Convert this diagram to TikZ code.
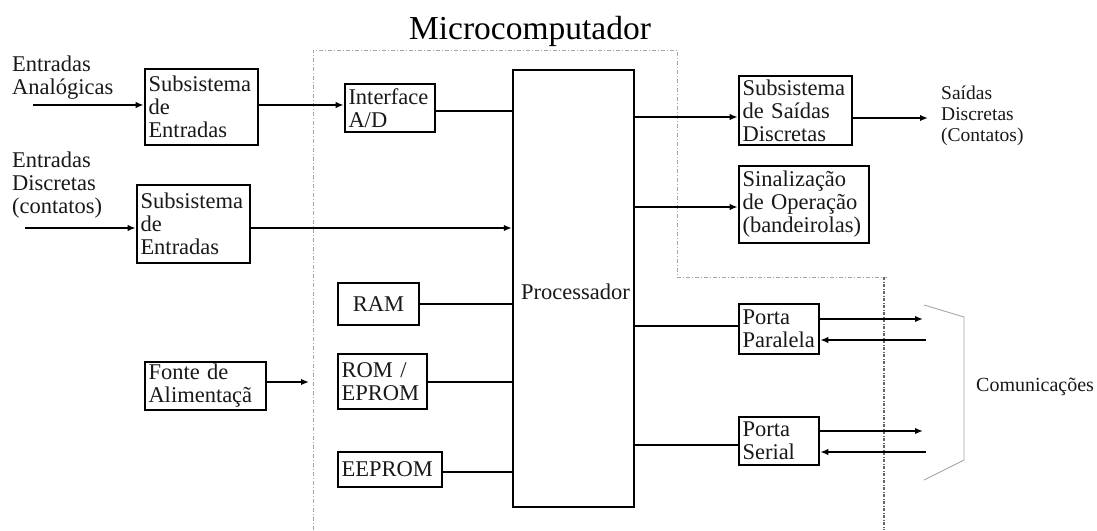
\documentclass[tikz,border=0pt]{standalone}
\usepackage{fontspec}
\setmainfont{Liberation Serif}
\usetikzlibrary{arrows.meta,calc}
\newcommand\bxfont{\fontsize{22.5}{23}\selectfont}
\newcommand\mybox[6]{%
  \pgfmathsetmacro\bxw{#4-#2}%
  \pgfmathsetmacro\bxh{#5-#3}%
  \pgfmathsetmacro\bxt{#4-#2-7}%
  \node[bx, minimum width=\bxw pt, minimum height=\bxh pt, text width=\bxt pt] (#1) at ({(#2+#4)/2},{(#3+#5)/2}) {#6};}
\begin{document}
\begin{tikzpicture}[x=1pt,y=-1pt,
  bx/.style={draw, line width=2.6pt, inner xsep=3.5pt, inner ysep=0pt, align=left, font=\bxfont, text=black!90},
  conn/.style={line width=2pt},
  arr/.style={line width=2pt, -{Latex[length=8pt,width=6.5pt]}},
  bound/.style={gray!70, line width=0.9pt, dash pattern=on 4pt off 2pt on 1pt off 2pt},
  lbl/.style={align=left, inner sep=0pt, font=\bxfont, text=black!90}]
\useasboundingbox (0,0) rectangle (1097,530);
\fill[white] (0,0) rectangle (1097,530);

% title
\node[inner sep=0pt, font=\fontsize{33.5}{35}\selectfont] (title) at (530,31) {Microcomputador};

% microcomputer boundary
\draw[bound] (313,530) -- (313,50) -- (677,50) -- (677,277) -- (887,277);
\draw[gray!80!black, line width=1.2pt, dash pattern=on 3pt off 1.5pt on 1pt off 1.5pt] (884,277) -- (884,530);

% boxes
\mybox{subA}{145}{69}{258}{145}{Subsistema\\de\\Entradas}
\mybox{subB}{137}{185}{250}{263}{Subsistema\\de\\Entradas}
\mybox{ad}{345}{84}{435}{132}{Interface\\A/D}
\node[draw, line width=2.4pt, minimum width=121pt, minimum height=437pt, inner sep=0pt] (proc) at (573.5,288.5) {};
\node[lbl, anchor=west] (proclbl) at (521,292) {Processador};
\node[bx, align=center, minimum width=81pt, minimum height=42pt, text width=74pt] (ram) at (378.5,304) {RAM};
\mybox{rom}{338}{354}{427}{409}{ROM /\\EPROM}
\mybox{eeprom}{338}{452}{442}{487}{EEPROM}
\mybox{fonte}{145}{362}{266}{410}{Fonte de\\Alimentaçã}
\mybox{sai}{739}{76}{852}{145}{Subsistema\\de Saídas\\Discretas}
\mybox{sin}{739}{166}{869}{243}{Sinalização\\de Operação\\(bandeirolas)}
\mybox{par}{739}{304}{819}{354}{Porta\\Paralela}
\mybox{ser}{739}{417}{819}{465}{Porta\\Serial}

% free labels
\node[lbl, anchor=west] (inA) at (12,78) {Entradas\\Analógicas};
\node[lbl, anchor=west] (inB) at (12,185) {Entradas\\Discretas\\(contatos)};
\node[lbl, anchor=west, font=\fontsize{19.5}{21}\selectfont] (outS) at (941,116) {Saídas\\Discretas\\(Contatos)};
\node[lbl, anchor=west, font=\fontsize{20}{21}\selectfont] (comm) at (976,387) {Comunicações};

% helper coordinates
\coordinate (aA) at (33,105);
\coordinate (aB) at (25,228);
\coordinate (yAD) at (0,111);
\coordinate (yRAM) at (0,304);
\coordinate (yROM) at (0,382);
\coordinate (yEE) at (0,472);
\coordinate (ySai) at (0,117);
\coordinate (ySin) at (0,207);
\coordinate (yPar) at (0,326);
\coordinate (ySer) at (0,445);
\coordinate (fonteEnd) at (309,382);
\coordinate (outEnd) at (928,118);
\coordinate (pOut) at (923,319);
\coordinate (pIn) at (926,340);
\coordinate (sOut) at (923,431);
\coordinate (sIn) at (926,452);

% connectors
\draw[arr] (aA) -- (aA -| subA.west);
\draw[arr] (subA.east |- aA) -- (ad.west |- aA);
\draw[conn] (ad.east |- yAD) -- (proc.west |- yAD);
\draw[arr] (aB) -- (aB -| subB.west);
\draw[arr] (subB.east |- aB) -- (proc.west |- aB);
\draw[conn] (ram.east |- yRAM) -- (proc.west |- yRAM);
\draw[conn] (rom.east |- yROM) -- (proc.west |- yROM);
\draw[conn] (eeprom.east |- yEE) -- (proc.west |- yEE);
\draw[arr] (fonte.east |- fonteEnd) -- (fonteEnd);
\draw[arr] (proc.east |- ySai) -- (sai.west |- ySai);
\draw[arr] (sai.east |- outEnd) -- (outEnd);
\draw[arr] (proc.east |- ySin) -- (sin.west |- ySin);
\draw[conn] (proc.east |- yPar) -- (par.west |- yPar);
\draw[conn] (proc.east |- ySer) -- (ser.west |- ySer);
\draw[arr] (par.east |- pOut) -- (pOut);
\draw[arr] (pIn) -- (par.east |- pIn);
\draw[arr] (ser.east |- sOut) -- (sOut);
\draw[arr] (sIn) -- (ser.east |- sIn);

% bracket
\draw[gray!70, line width=0.9pt] (924,305) -- (964,317) -- (964,460) -- (924,480);
\end{tikzpicture}
\end{document}
